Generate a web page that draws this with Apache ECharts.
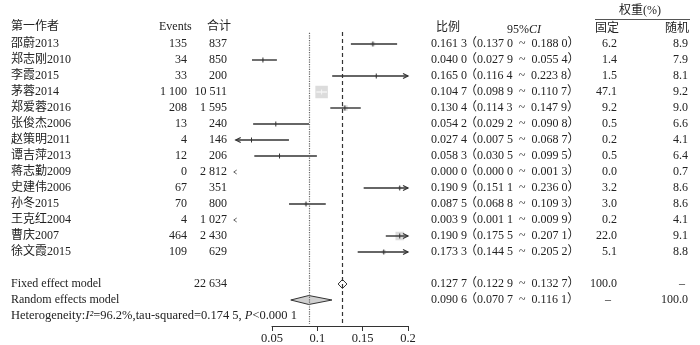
<!DOCTYPE html>
<html>
<head>
<meta charset="utf-8">
<script src="https://cdn.jsdelivr.net/npm/echarts@6/dist/echarts.min.js"></script>
<style>html,body{margin:0;padding:0;background:#fff}#chart{width:700px;height:345px}</style>
</head>
<body>
<div id="chart"></div>
<script>
// 研究数据
const authors = ['邵蔚2013', '郑志刚2010', '李霞2015', '茅蓉2014', '郑爱蓉2016', '张俊杰2006', '赵策明2011',
    '谭吉萍2013', '蒋志勤2009', '史建伟2006', '孙冬2015', '王克红2004', '曹庆2007', '徐文霞2015'];
const events = [135, 34, 33, 1100, 208, 13, 4, 12, 0, 67, 70, 4, 464, 109];
const totals = [837, 850, 200, 10511, 1595, 240, 146, 206, 2812, 351, 800, 1027, 2430, 629];
const props = [0.1613, 0.0400, 0.1650, 0.1047, 0.1304, 0.0542, 0.0274, 0.0583, 0.0000, 0.1909, 0.0875, 0.0039, 0.1909, 0.1733];
const ciLow = [0.1370, 0.0279, 0.1164, 0.0989, 0.1143, 0.0292, 0.0075, 0.0305, 0.0000, 0.1511, 0.0688, 0.0011, 0.1755, 0.1445];
const ciHigh = [0.1880, 0.0554, 0.2238, 0.1107, 0.1479, 0.0908, 0.0687, 0.0995, 0.0013, 0.2360, 0.1093, 0.0099, 0.2071, 0.2052];
const wFixed = [6.2, 1.4, 1.5, 47.1, 9.2, 0.5, 0.2, 0.5, 0.0, 3.2, 3.0, 0.2, 22.0, 5.1];
const wRandom = [8.9, 7.9, 8.1, 9.2, 9.0, 6.6, 4.1, 6.4, 0.7, 8.6, 8.6, 4.1, 9.1, 8.8];

// 合并结果
const pooledLabels = ['Fixed effect model', 'Random effects model'];
const pooledEst = [0.1277, 0.0906];
const pooledLow = [0.1229, 0.0707];
const pooledHigh = [0.1327, 0.1161];
const pooledWFixed = [100.0, null];
const pooledWRandom = [null, 100.0];
const totalN = 22634;
const hetI2 = '96.2%';
const hetTau2 = '0.174 5';
const hetP = '<0.000 1';

const xTicks = [0.05, 0.1, 0.15, 0.2];

// 显示范围
const LB = 0.01, UB = 0.2;
const FONT = '12px "Liberation Serif","Noto Sans CJK SC",serif';
const TXT = '#222';
const LINE = '#333';

function fmtInt(n) {
    const s = String(n);
    return s.length > 3 ? s.slice(0, -3) + ' ' + s.slice(-3) : s;
}
function fmtDec(v) {
    const s = v.toFixed(4);
    return s.slice(0, 5) + ' ' + s.slice(5);
}
function fmtCI(lo, hi) {
    return '（' + fmtDec(lo) + '\u2002~\u2002' + fmtDec(hi) + '）';
}
function fmtW(w) {
    return w == null ? '–' : w.toFixed(1);
}

// 表格行
const tableRows = authors.map((a, i) => [a, fmtInt(events[i]), fmtInt(totals[i]), fmtDec(props[i]),
    fmtCI(ciLow[i], ciHigh[i]), fmtW(wFixed[i]), fmtW(wRandom[i])]);
pooledLabels.forEach((p, k) => tableRows.push([p, '', k === 0 ? fmtInt(totalN) : '', fmtDec(pooledEst[k]),
    fmtCI(pooledLow[k], pooledHigh[k]), fmtW(pooledWFixed[k]), fmtW(pooledWRandom[k])]));
const tableRowNo = authors.map((a, i) => i + 1).concat([16, 17]);

const chart = echarts.init(document.getElementById('chart'));
const maxW = Math.max(...wFixed);

function txt(text, x, y, align) {
    return {type: 'text', style: {text, x, y, align, verticalAlign: 'middle', font: FONT, fill: TXT}};
}

function renderTable(params, api) {
    const i = params.dataIndex;
    const y = api.coord([0.1, api.value(1)])[1];
    const r = tableRows[i];
    const kids = [
        txt(r[0], 11, y, 'left'),
        txt(r[1], 187, y, 'right'),
        txt(r[2], 227, y, 'right'),
        txt(r[3], 431, y, 'left'),
        txt(r[4], 465, y, 'left')
    ];
    kids.push(r[5] === '–' ? txt(r[5], 608, y, 'center') : txt(r[5], 617, y, 'right'));
    kids.push(r[6] === '–' ? txt(r[6], 682, y, 'center') : txt(r[6], 688, y, 'right'));
    return {type: 'group', children: kids};
}

function renderStudy(params, api) {
    const row = api.value(0), est = api.value(1), lo = api.value(2), hi = api.value(3), w = api.value(4);
    const px = v => api.coord([v, row])[0];
    const yc = api.coord([est, row])[1];
    const kids = [];
    if (hi < LB) {
        const x = px(LB) - 2;
        kids.push({type: 'polyline', shape: {points: [[x + 3, yc - 2], [x, yc], [x + 3, yc + 2]]},
            style: {stroke: '#666', fill: null, lineWidth: 1}});
        return {type: 'group', children: kids};
    }
    const x0 = px(Math.max(lo, LB)), x1 = px(Math.min(hi, UB)), xe = px(est);
    const size = 12.5 * Math.sqrt(w / maxW);
    kids.push({type: 'rect', shape: {x: xe - size / 2, y: yc - size / 2, width: size, height: size},
        style: {fill: '#dcdcdc'}});
    const col = (x1 - x0) <= size ? '#f4f4f4' : LINE;
    kids.push({type: 'line', shape: {x1: x0, y1: yc, x2: x1, y2: yc}, style: {stroke: col, lineWidth: 1.4}});
    kids.push({type: 'line', shape: {x1: xe, y1: yc - 2.5, x2: xe, y2: yc + 2.5}, style: {stroke: col, lineWidth: 1}});
    if (hi > UB) {
        kids.push({type: 'polyline', shape: {points: [[x1 - 5, yc - 2.5], [x1, yc], [x1 - 5, yc + 2.5]]},
            style: {stroke: LINE, fill: null, lineWidth: 1.2}});
    }
    if (lo < LB) {
        kids.push({type: 'polyline', shape: {points: [[x0 + 5, yc - 2.5], [x0, yc], [x0 + 5, yc + 2.5]]},
            style: {stroke: LINE, fill: null, lineWidth: 1.2}});
    }
    return {type: 'group', children: kids};
}

function renderDiamond(params, api) {
    const row = api.value(0);
    const c = api.coord([api.value(1), row]);
    const l = api.coord([api.value(2), row]);
    const h = api.coord([api.value(3), row]);
    return {
        type: 'polygon',
        shape: {points: [[l[0], c[1]], [c[0], c[1] - 4.5], [h[0], c[1]], [c[0], c[1] + 4.5]]},
        style: {fill: params.dataIndex === 0 ? '#fff' : '#d0d0d0', stroke: LINE, lineWidth: 1}
    };
}

const option = {
    backgroundColor: '#fff',
    animation: false,
    grid: {left: 272, width: 136, top: 28, height: 298},
    xAxis: {
        type: 'value',
        position: 'bottom',
        min: 0.05,
        max: 0.2,
        interval: 0.05,
        axisLine: {show: true, onZero: false, lineStyle: {color: LINE, width: 1}},
        axisTick: {show: true, length: 5, lineStyle: {color: LINE}},
        axisLabel: {color: TXT, fontSize: 12.5, fontFamily: 'Liberation Serif', margin: 6,
            customValues: xTicks, formatter: v => String(+v.toFixed(2))},
        splitLine: {show: false}
    },
    yAxis: {type: 'value', inverse: true, min: 0, max: 18.625, show: false},
    graphic: [
        {type: 'text', left: 11, top: 21, style: {text: '第一作者', font: FONT, fill: TXT}},
        {type: 'text', left: 159, top: 21, style: {text: 'Events', font: FONT, fill: TXT}},
        {type: 'text', left: 207, top: 21, style: {text: '合计', font: FONT, fill: TXT}},
        {type: 'text', left: 436, top: 22, style: {text: '比例', font: FONT, fill: TXT}},
        {type: 'text', left: 507, top: 24, style: {text: '95%{i|CI}', font: FONT, fill: TXT,
            rich: {i: {fontStyle: 'italic', fontFamily: 'Liberation Serif', fontSize: 12}}}},
        {type: 'text', left: 619, top: 5, style: {text: '权重(%)', font: FONT, fill: TXT}},
        {type: 'line', shape: {x1: 595, y1: 19.5, x2: 690, y2: 19.5}, style: {stroke: '#555', lineWidth: 1}},
        {type: 'text', left: 595, top: 23, style: {text: '固定', font: FONT, fill: TXT}},
        {type: 'text', left: 665, top: 23, style: {text: '随机', font: FONT, fill: TXT}},
        {type: 'text', left: 11, top: 309, style: {
            text: 'Heterogeneity:{i|I²}=' + hetI2 + ',tau-squared=' + hetTau2 + ', {i|P}' + hetP,
            font: '12.5px "Liberation Serif",serif', fill: TXT,
            rich: {i: {fontStyle: 'italic', fontFamily: 'Liberation Serif', fontSize: 12.5}}}}
    ],
    series: [
        {
            type: 'custom',
            name: 'table',
            renderItem: renderTable,
            data: tableRowNo.map(r => [0.1, r]),
            silent: true
        },
        {
            type: 'custom',
            name: 'studies',
            renderItem: renderStudy,
            data: authors.map((a, i) => [i + 1, props[i], ciLow[i], ciHigh[i], wFixed[i]]),
            encode: {x: 1, y: 0},
            silent: true,
            markLine: {
                symbol: 'none',
                silent: true,
                label: {show: false},
                data: [
                    [{coord: [pooledEst[1], 0.3], lineStyle: {type: 'dotted', color: '#666', width: 1.2}},
                        {coord: [pooledEst[1], 18.5]}],
                    [{coord: [pooledEst[0], 0.25], lineStyle: {type: [4, 3], color: LINE, width: 1.2}},
                        {coord: [pooledEst[0], 18.5]}]
                ]
            }
        },
        {
            type: 'custom',
            name: 'pooled',
            renderItem: renderDiamond,
            data: pooledEst.map((e, k) => [16 + k, e, pooledLow[k], pooledHigh[k]]),
            encode: {x: 1, y: 0},
            silent: true
        }
    ]
};

chart.setOption(option);
</script>
</body>
</html>
